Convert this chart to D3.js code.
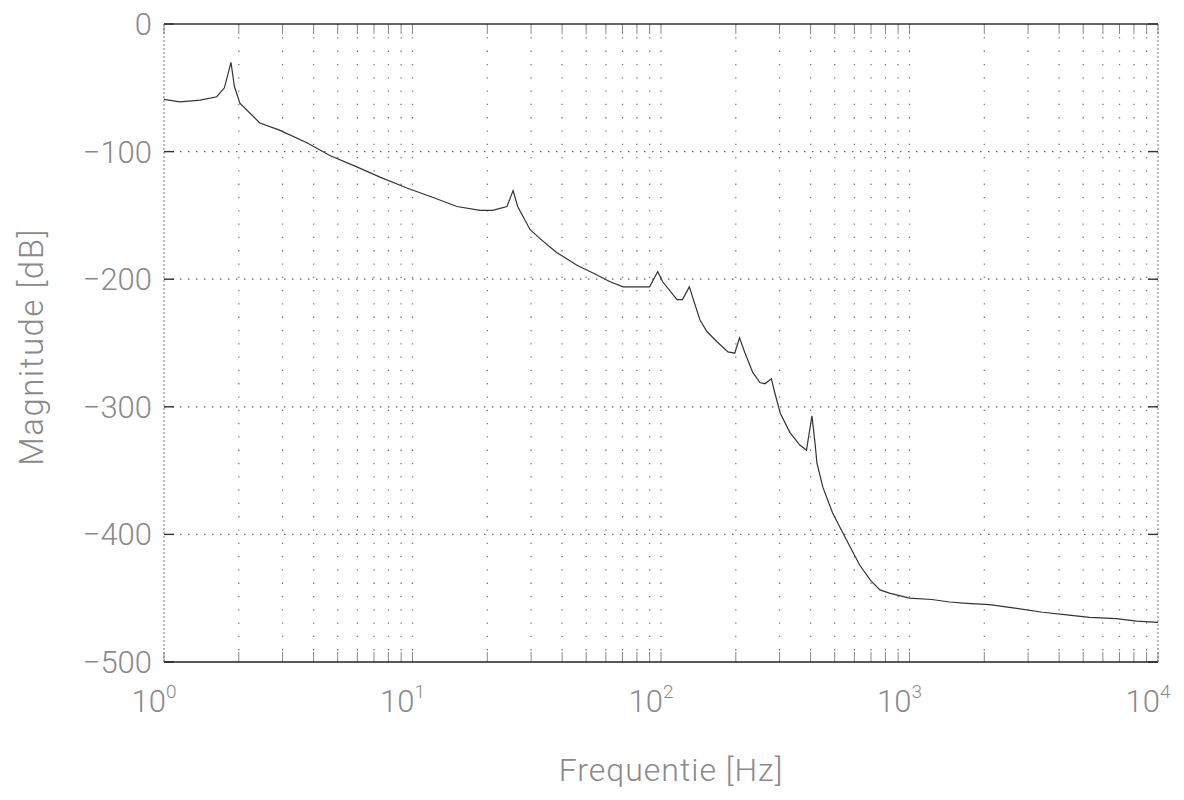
<!DOCTYPE html>
<html>
<head>
<meta charset="utf-8">
<script src="https://cdn.jsdelivr.net/npm/d3@7"></script>
<style>
  body { margin: 0; background: #fff; }
  text { font-family: Roboto, "DejaVu Sans", sans-serif; font-weight: 300; fill: #8a8a8a; }
</style>
</head>
<body>
<div id="container"></div>
<script>
/* CONSTANTS AND GLOBALS */
const width = 1184,
  height = 800,
  margin = { top: 24, bottom: 138, left: 164, right: 26 };

// data: frequency [Hz] and magnitude [dB]
const freqHz = [1, 1.16, 1.4, 1.63, 1.75, 1.86, 1.92, 2.02, 2.43, 2.9, 3.76, 4.65, 5.97, 7.4,
  9.5, 12.1, 15.1, 18.7, 21, 24, 25.4, 26.5, 29.7, 32.5, 38, 45.9, 53, 62.4, 70.4, 80,
  90, 97, 101.6, 116, 122, 130, 134, 143.5, 153, 168, 186, 198, 207, 217, 234, 250, 262, 278,
  287, 302, 330, 362, 385, 405, 418, 424, 448, 490, 533, 585, 630, 697, 760, 830, 1000, 1230,
  1450, 1700, 2100, 2700, 3430, 4300, 5300, 6800, 8200, 10000]
const magDb = [-59, -61, -59.6, -57, -50, -30, -49, -62, -77.6, -83, -93, -103, -112, -120,
  -128.5, -136, -143, -146, -146, -143, -130.5, -143, -161, -168, -179, -189, -195, -202, -206, -206,
  -206, -194, -202, -216, -216, -206, -214, -232, -241, -249, -257, -258, -246, -257,
  -273, -281, -282, -278, -289, -305, -320, -330, -334, -307, -331, -344, -363, -383, -397, -412,
  -424, -436, -443.5, -446, -450, -451, -453, -454, -455, -458, -461, -463, -465, -466, -468, -469]

const yTicks = [0, -100, -200, -300, -400, -500]
const xDecades = [0, 1, 2, 3, 4]
const minorMult = [1, 2, 3, 4, 5, 6, 7, 8, 9]

/* SCALES */
const xScale = d3.scaleLog()
  .domain([1, 10000])
  .range([margin.left, width - margin.right])

const yScale = d3.scaleLinear()
  .domain([-500, 0])
  .range([height - margin.bottom, margin.top])

// every grid frequency: 1..9 x 10^k
const gridFreqs = []
xDecades.forEach(k => {
  minorMult.forEach(m => {
    const f = m * Math.pow(10, k)
    if (f <= 10000) gridFreqs.push(f)
  })
})

/* CREATE SVG ELEMENT */
const svg = d3.select("#container")
  .append("svg")
  .attr("width", width)
  .attr("height", height)

const plotTop = yScale(0), plotBottom = yScale(-500)
const plotLeft = xScale(1), plotRight = xScale(10000)

// vertical dotted grid
svg.selectAll(".vgrid")
  .data(gridFreqs.filter(f => f > 1 && f < 10000))
  .join("line")
  .attr("class", "vgrid")
  .attr("x1", d => xScale(d))
  .attr("x2", d => xScale(d))
  .attr("y1", plotTop)
  .attr("y2", plotBottom)
  .attr("stroke", "#777")
  .attr("stroke-width", 1.3)
  .attr("stroke-dasharray", "1.3,12")

// horizontal dotted grid
svg.selectAll(".hgrid")
  .data(yTicks.filter(d => d > -500 && d < 0))
  .join("line")
  .attr("class", "hgrid")
  .attr("x1", plotLeft)
  .attr("x2", plotRight)
  .attr("y1", d => yScale(d))
  .attr("y2", d => yScale(d))
  .attr("stroke", "#666")
  .attr("stroke-width", 1.3)
  .attr("stroke-dasharray", "1.5,6.5")

// short ticks inside top and bottom axes
const tickLen = 10
svg.selectAll(".xtick-b")
  .data(gridFreqs)
  .join("line")
  .attr("class", "xtick-b")
  .attr("x1", d => xScale(d)).attr("x2", d => xScale(d))
  .attr("y1", plotBottom).attr("y2", plotBottom - tickLen)
  .attr("stroke", "#888").attr("stroke-width", 1)
svg.selectAll(".xtick-t")
  .data(gridFreqs)
  .join("line")
  .attr("class", "xtick-t")
  .attr("x1", d => xScale(d)).attr("x2", d => xScale(d))
  .attr("y1", plotTop).attr("y2", plotTop + tickLen)
  .attr("stroke", "#888").attr("stroke-width", 1)

// ticks on left and right axes
svg.selectAll(".ytick-l")
  .data(yTicks)
  .join("line")
  .attr("class", "ytick-l")
  .attr("x1", plotLeft).attr("x2", plotLeft + tickLen)
  .attr("y1", d => yScale(d)).attr("y2", d => yScale(d))
  .attr("stroke", "#333").attr("stroke-width", 1.4)
svg.selectAll(".ytick-r")
  .data(yTicks)
  .join("line")
  .attr("class", "ytick-r")
  .attr("x1", plotRight).attr("x2", plotRight - tickLen)
  .attr("y1", d => yScale(d)).attr("y2", d => yScale(d))
  .attr("stroke", "#333").attr("stroke-width", 1.4)

// frame
svg.append("line").attr("x1", plotLeft).attr("x2", plotRight).attr("y1", plotTop).attr("y2", plotTop)
  .attr("stroke", "#333").attr("stroke-width", 1.3)
svg.append("line").attr("x1", plotLeft).attr("x2", plotRight).attr("y1", plotBottom).attr("y2", plotBottom)
  .attr("stroke", "#222").attr("stroke-width", 1.6)
svg.append("line").attr("x1", plotLeft).attr("x2", plotLeft).attr("y1", plotTop).attr("y2", plotBottom)
  .attr("stroke", "#777").attr("stroke-width", 1).attr("stroke-dasharray", "2,2")
svg.append("line").attr("x1", plotRight).attr("x2", plotRight).attr("y1", plotTop).attr("y2", plotBottom)
  .attr("stroke", "#777").attr("stroke-width", 1).attr("stroke-dasharray", "2,2")

/* TICK LABELS */
svg.selectAll(".ylabel")
  .data(yTicks)
  .join("text")
  .attr("class", "ylabel")
  .attr("x", plotLeft - 12)
  .attr("y", d => yScale(d) + 11)
  .attr("text-anchor", "end")
  .attr("font-size", 31)
  .text(d => d === 0 ? "0" : "\u2212" + Math.abs(d))

const xl = svg.selectAll(".xlabel")
  .data(xDecades)
  .join("text")
  .attr("class", "xlabel")
  .attr("x", d => xScale(Math.pow(10, d)) - 10)
  .attr("y", plotBottom + 50)
  .attr("text-anchor", "middle")
  .attr("font-size", 31)
xl.append("tspan").text("10")
xl.append("tspan").attr("dy", -14).attr("font-size", 19).text(d => d)

/* AXIS TITLES */
svg.append("text")
  .attr("x", (plotLeft + plotRight) / 2 + 10)
  .attr("y", 781)
  .attr("text-anchor", "middle")
  .attr("font-size", 32)
  .attr("letter-spacing", 1)
  .text("Frequentie [Hz]")

svg.append("text")
  .attr("transform", `translate(43, ${(plotTop + plotBottom) / 2 + 4}) rotate(-90)`)
  .attr("text-anchor", "middle")
  .attr("font-size", 33)
  .attr("letter-spacing", 1.5)
  .text("Magnitude [dB]")

/* DRAW LINE */
const series = freqHz.map((f, i) => ({ f: f, db: magDb[i] }))

const drawLine = d3.line()
  .x(d => xScale(d.f))
  .y(d => yScale(d.db))

svg.selectAll(".mag")
  .data([series])
  .join("path")
  .attr("class", "mag")
  .attr("fill", "none")
  .attr("stroke", "#333")
  .attr("stroke-width", 1.2)
  .attr("d", d => drawLine(d))
</script>
</body>
</html>
